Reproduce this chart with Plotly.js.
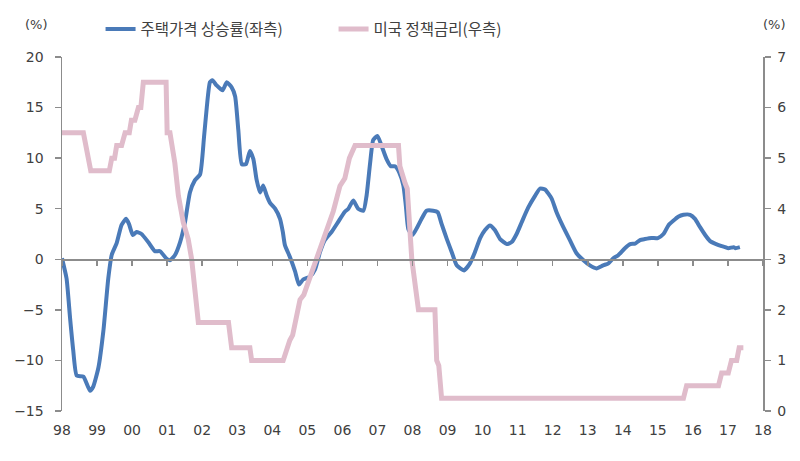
<!DOCTYPE html>
<html><head><meta charset="utf-8">
<script src="https://cdn.plot.ly/plotly-3.0.1.min.js"></script>
<style>html,body{margin:0;padding:0;background:#fff}#chart{width:800px;height:461px}</style>
</head><body><div id="chart"></div>
<script>
const yearTicks = [1998,1999,2000,2001,2002,2003,2004,2005,2006,2007,2008,2009,2010,2011,2012,2013,2014,2015,2016,2017,2018];
const yearLabels = ['98','99','00','01','02','03','04','05','06','07','08','09','10','11','12','13','14','15','16','17','18'];
const seriesNames = ['주택가격 상승률(좌측)', '미국 정책금리(우측)'];

const houseYears = [1998.0,1998.13,1998.23,1998.32,1998.42,1998.61,1998.80,1998.89,1999.04,1999.18,1999.32,1999.42,1999.56,1999.70,1999.83,1999.91,2000.02,2000.13,2000.27,2000.46,2000.65,2000.80,2000.97,2001.08,2001.22,2001.37,2001.51,2001.65,2001.79,2001.94,2002.05,2002.13,2002.22,2002.29,2002.41,2002.58,2002.70,2002.84,2002.94,2003.03,2003.13,2003.25,2003.36,2003.46,2003.55,2003.65,2003.74,2003.84,2003.93,2004.08,2004.22,2004.30,2004.36,2004.50,2004.65,2004.76,2004.88,2005.08,2005.22,2005.36,2005.50,2005.69,2005.88,2006.07,2006.17,2006.31,2006.45,2006.60,2006.69,2006.79,2006.88,2007.00,2007.12,2007.26,2007.38,2007.50,2007.62,2007.74,2007.81,2007.88,2008.00,2008.14,2008.26,2008.40,2008.59,2008.72,2008.83,2008.98,2009.12,2009.26,2009.47,2009.64,2009.78,2009.93,2010.07,2010.21,2010.35,2010.50,2010.69,2010.83,2010.97,2011.12,2011.30,2011.50,2011.64,2011.78,2011.97,2012.11,2012.30,2012.49,2012.68,2012.87,2013.06,2013.25,2013.44,2013.59,2013.73,2013.87,2014.06,2014.21,2014.35,2014.49,2014.63,2014.82,2015.00,2015.16,2015.30,2015.44,2015.58,2015.73,2015.92,2016.06,2016.20,2016.35,2016.49,2016.63,2016.82,2017.01,2017.16,2017.21,2017.34];
const houseGrowth = [0.1,-1.9,-5.8,-9.0,-11.5,-11.6,-13.0,-12.6,-10.7,-7.1,-1.9,0.45,1.6,3.4,4.0,3.5,2.4,2.7,2.5,1.7,0.8,0.8,0.1,-0.1,0.4,1.7,3.7,6.6,7.8,8.4,12.0,15.0,17.5,17.7,17.2,16.7,17.5,17.0,16.1,12.8,9.4,9.4,10.7,9.9,7.9,6.6,7.3,6.3,5.6,5.0,4.0,2.7,1.4,0.25,-1.2,-2.5,-2.0,-1.7,-1.0,0.7,1.9,2.7,3.7,4.7,5.0,5.8,5.0,4.8,6.3,9.5,11.8,12.2,11.2,9.9,9.2,9.2,8.6,7.3,5.3,3.0,2.4,3.2,4.0,4.8,4.8,4.65,3.5,2.0,0.7,-0.6,-1.1,-0.4,0.7,2.1,2.9,3.35,2.9,2.0,1.5,1.7,2.5,3.7,5.1,6.3,7.0,6.9,6.0,4.65,3.2,1.9,0.6,-0.07,-0.6,-0.9,-0.6,-0.4,0.1,0.4,1.1,1.5,1.55,1.9,2.0,2.1,2.1,2.5,3.35,3.8,4.2,4.4,4.4,4.0,3.2,2.4,1.8,1.55,1.3,1.1,1.2,1.1,1.2];

const rateYears = [1998.0,1998.61,1998.82,1999.35,1999.42,1999.50,1999.56,1999.70,1999.80,1999.92,1999.98,2000.08,2000.18,2000.25,2000.32,2000.97,2001.0,2001.08,2001.22,2001.32,2001.46,2001.6,2001.7,2001.79,2001.89,2002.75,2002.84,2003.36,2003.41,2004.31,2004.41,2004.5,2004.58,2004.65,2004.79,2004.9,2005.0,2005.17,2005.36,2005.55,2005.74,2005.93,2006.07,2006.2,2006.36,2007.6,2007.64,2007.79,2007.85,2007.98,2008.07,2008.17,2008.64,2008.69,2008.75,2008.83,2015.73,2015.82,2016.73,2016.82,2017.01,2017.1,2017.25,2017.32,2017.44];
const usRate = [5.5,5.5,4.75,4.75,5.0,5.0,5.25,5.25,5.5,5.5,5.75,5.75,6.0,6.0,6.5,6.5,5.5,5.5,4.9,4.26,3.73,3.4,3.0,2.37,1.75,1.75,1.25,1.25,1.0,1.0,1.25,1.4,1.5,1.75,2.2,2.3,2.5,2.8,3.2,3.55,3.95,4.45,4.6,5.0,5.25,5.25,4.84,4.5,4.4,3.0,2.5,2.0,2.0,1.0,0.9,0.25,0.25,0.5,0.5,0.75,0.75,1.0,1.0,1.25,1.25];

const axisGray = '#8c8c8c';
const textColor = '#404040';
const numFont = {family: 'DejaVu Sans, Noto Sans CJK KR', size: 14, color: textColor};

const traces = [
  {x: houseYears, y: houseGrowth, name: seriesNames[0], type: 'scatter', mode: 'lines',
   line: {color: '#4a7ab8', width: 4, shape: 'spline', smoothing: 0.5}, xaxis: 'x', yaxis: 'y'},
  {x: rateYears, y: usRate, name: seriesNames[1], type: 'scatter', mode: 'lines',
   line: {color: '#e0bccb', width: 5}, xaxis: 'x', yaxis: 'y2'},
  // carrier for the zero-line axis (draws nothing)
  {x: houseYears, y: houseGrowth, type: 'scatter', mode: 'none', showlegend: false,
   xaxis: 'x2', yaxis: 'y', hoverinfo: 'skip'}
];

const layout = {
  width: 800, height: 461,
  margin: {l: 62, r: 37, t: 53, b: 50},
  paper_bgcolor: '#fff', plot_bgcolor: '#fff',
  hovermode: false,
  showlegend: true,
  legend: {orientation: 'h', x: 0.055, xanchor: 'left', y: 1.078, yanchor: 'middle',
    font: {family: 'Noto Sans CJK KR', size: 15.5, color: textColor},
    entrywidth: 188, entrywidthmode: 'pixels', bgcolor: 'rgba(0,0,0,0)'},
  xaxis: {range: [1998, 2018], tickmode: 'array', tickvals: yearTicks, ticktext: yearLabels,
    showline: false, ticks: '', showgrid: false, zeroline: false,
    tickfont: numFont, ticklabelstandoff: 9},
  xaxis2: {range: [1998, 2018], overlaying: 'x', anchor: 'free', position: 15/35,
    tickmode: 'array', tickvals: yearTicks, showticklabels: false,
    showline: true, linecolor: axisGray, linewidth: 1.5, ticks: 'outside', ticklen: 5,
    tickcolor: axisGray, tickwidth: 1.5, showgrid: false, zeroline: false},
  yaxis: {range: [-15, 20], dtick: 5, tick0: 0, showline: true, linecolor: axisGray, linewidth: 1.5,
    ticks: 'outside', ticklen: 6, tickcolor: axisGray, tickwidth: 1.5, showgrid: false, zeroline: false,
    tickfont: numFont, ticklabelstandoff: 8},
  yaxis2: {range: [0, 7], dtick: 1, tick0: 0, overlaying: 'y', side: 'right', showline: true,
    linecolor: axisGray, linewidth: 1.5, ticks: 'outside', ticklen: 6, tickcolor: axisGray, tickwidth: 1.5,
    showgrid: false, zeroline: false, tickfont: numFont, ticklabelstandoff: 4},
  annotations: [
    {text: '(%)', xref: 'paper', yref: 'paper', x: -0.037, y: 1.092, xanchor: 'center', yanchor: 'middle',
     showarrow: false, font: {family: 'DejaVu Sans', size: 13, color: textColor}},
    {text: '(%)', xref: 'paper', yref: 'paper', x: 1.017, y: 1.092, xanchor: 'center', yanchor: 'middle',
     showarrow: false, font: {family: 'DejaVu Sans', size: 13, color: textColor}}
  ]
};

Plotly.newPlot('chart', traces, layout, {displayModeBar: false, staticPlot: true});
</script></body></html>
